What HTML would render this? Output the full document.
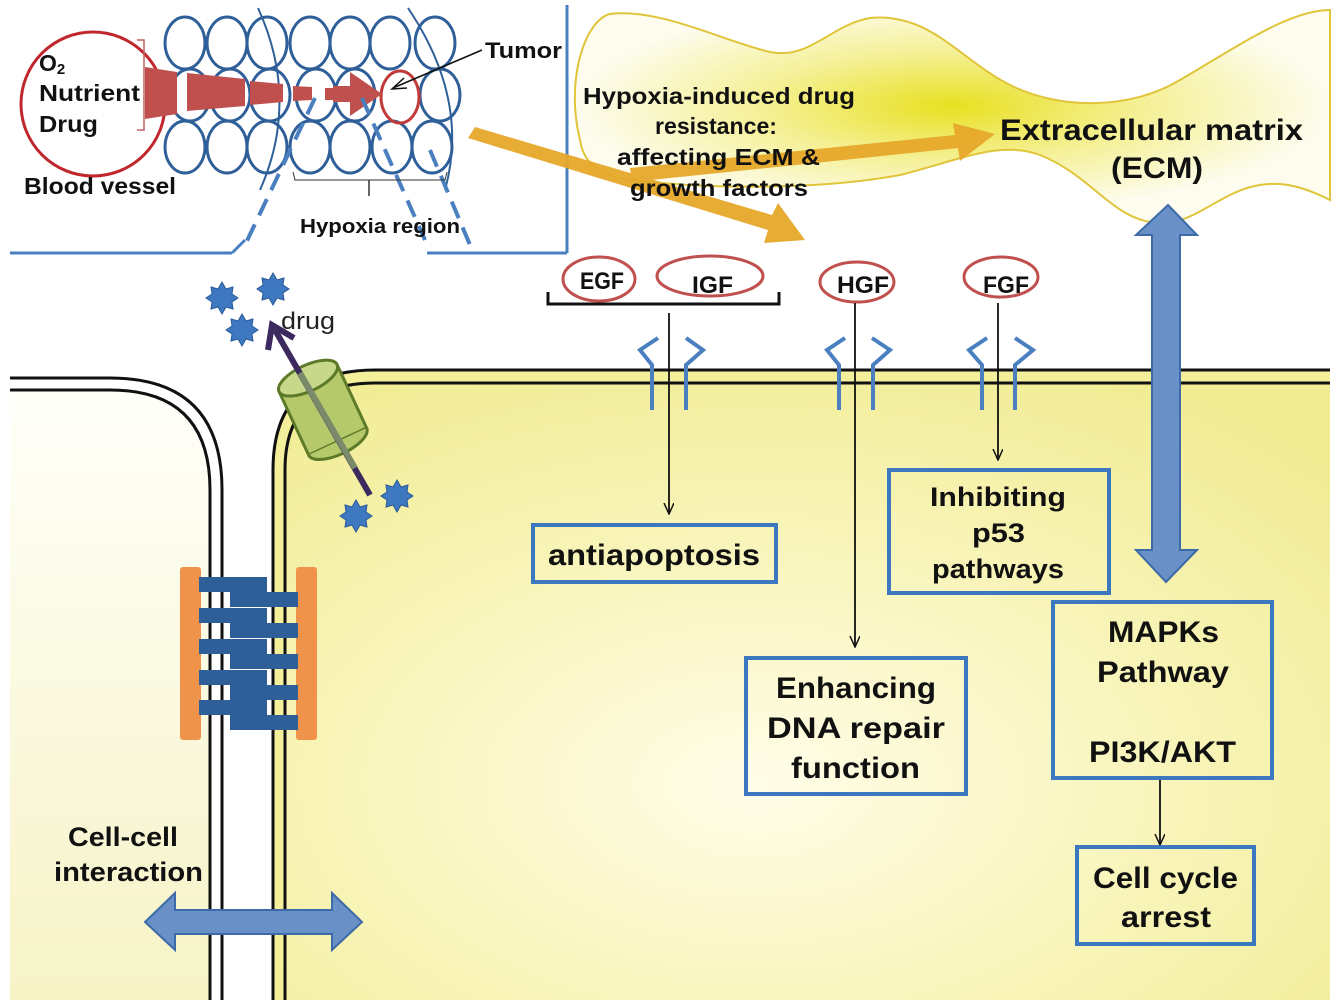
<!DOCTYPE html>
<html><head><meta charset="utf-8"><style>
html,body{margin:0;padding:0;background:#fff;}
svg{display:block;font-family:"Liberation Sans","Noto Sans CJK KR",sans-serif;}
.b{font-weight:bold;fill:#111;}
</style></head><body>
<svg width="1338" height="1000" viewBox="0 0 1338 1000" xmlns="http://www.w3.org/2000/svg">
<defs>
<radialGradient id="rc" cx="0.45" cy="0.65" r="0.75">
<stop offset="0" stop-color="#fffde8"/><stop offset="0.55" stop-color="#f8f4b8"/><stop offset="1" stop-color="#f1ec94"/>
</radialGradient>
<linearGradient id="lc" x1="0" y1="0" x2="0" y2="1">
<stop offset="0" stop-color="#fffffa"/><stop offset="1" stop-color="#f6f3c6"/>
</linearGradient>
<radialGradient id="ecm" cx="0.5" cy="0.45" r="0.5">
<stop offset="0" stop-color="#e8e020"/><stop offset="0.5" stop-color="#f5f095"/><stop offset="1" stop-color="#fdfcee"/>
</radialGradient>
<marker id="ah" markerWidth="12" markerHeight="12" refX="11" refY="5" orient="auto" markerUnits="userSpaceOnUse">
<path d="M0,0 L11,5 L0,10" fill="none" stroke="#111" stroke-width="1.5"/>
</marker>
</defs>

<!-- ECM cloud -->
<path d="M580,140 C565,80 585,20 610,14 C660,8 720,40 770,52 C810,60 830,25 870,18 C930,12 960,60 1010,85 C1060,110 1130,110 1180,80 C1240,45 1290,10 1330,10 L1330,200 C1300,185 1270,175 1230,195 C1200,210 1180,228 1150,222 C1110,215 1090,175 1040,155 C1000,140 960,160 900,175 C820,190 700,190 620,178 C595,172 583,160 580,140 Z" fill="url(#ecm)" stroke="#e0c43a" stroke-width="2"/>

<!-- frame -->
<g stroke="#4a7fc0" stroke-width="3" fill="none">
<line x1="567" y1="5" x2="567" y2="253"/>
<line x1="10" y1="253" x2="232" y2="253"/>
<line x1="232" y1="253" x2="245" y2="240"/>
<line x1="427" y1="253" x2="567" y2="253"/>
</g>

<!-- left cell -->
<path d="M10,390 L110,390 Q210,390 210,490 L210,1000 L10,1000 Z" fill="url(#lc)"/>
<path d="M10,378 L110,378 Q222,378 222,490 L222,1000" fill="none" stroke="#111" stroke-width="3"/>
<path d="M10,390 L110,390 Q210,390 210,490 L210,1000" fill="none" stroke="#111" stroke-width="3"/>
<!-- right cell -->
<path d="M273,1000 L273,470 Q273,370 375,370 L1330,370 L1330,1000 Z" fill="#f3ef9a"/>
<path d="M285,1000 L285,470 Q285,383 375,383 L1330,383 L1330,1000 Z" fill="url(#rc)"/>
<path d="M273,1000 L273,470 Q273,370 375,370 L1330,370" fill="none" stroke="#111" stroke-width="3"/>
<path d="M285,1000 L285,470 Q285,383 375,383 L1330,383" fill="none" stroke="#111" stroke-width="3"/>

<!-- tumor cells -->
<g fill="none" stroke="#2f5f98" stroke-width="3">
<ellipse cx="185" cy="43" rx="20" ry="26"/><ellipse cx="227" cy="43" rx="20" ry="26"/><ellipse cx="267" cy="43" rx="20" ry="26"/><ellipse cx="310" cy="43" rx="20" ry="26"/><ellipse cx="350" cy="43" rx="20" ry="26"/><ellipse cx="390" cy="43" rx="20" ry="26"/><ellipse cx="435" cy="43" rx="20" ry="26"/>
<ellipse cx="190" cy="95" rx="20" ry="26"/><ellipse cx="230" cy="95" rx="20" ry="26"/><ellipse cx="270" cy="95" rx="20" ry="26"/><ellipse cx="316" cy="95" rx="20" ry="26"/><ellipse cx="355" cy="95" rx="20" ry="26"/><ellipse cx="440" cy="95" rx="20" ry="26"/>
<ellipse cx="185" cy="147" rx="20" ry="26"/><ellipse cx="227" cy="147" rx="20" ry="26"/><ellipse cx="267" cy="147" rx="20" ry="26"/><ellipse cx="310" cy="147" rx="20" ry="26"/><ellipse cx="350" cy="147" rx="20" ry="26"/><ellipse cx="392" cy="147" rx="20" ry="26"/><ellipse cx="432" cy="147" rx="20" ry="26"/>
<path d="M258,8 Q300,100 260,190" stroke-width="2"/>
<path d="M408,8 Q470,100 445,190" stroke-width="2"/>
</g>
<ellipse cx="400" cy="97" rx="19" ry="26" fill="none" stroke="#c03a3a" stroke-width="3"/>
<!-- blood vessel -->
<circle cx="93" cy="104" r="72" fill="#fff" stroke="#c0262c" stroke-width="3"/>
<path d="M137,40 L144,40 L144,130 L137,130" fill="none" stroke="#c06060" stroke-width="1.5"/>
<!-- red arrow -->
<g fill="#c0504d">
<path d="M145,67 L177,72 L177,114 L145,119 Z"/>
<path d="M187,73 L245,79 L245,106 L187,111 Z"/>
<path d="M250,81 L283,84 L283,102 L250,105 Z"/>
<path d="M293,86 L312,87 L312,100 L293,101 Z"/>
<path d="M325,88 L333,88 L333,100 L325,100 Z"/>
<path d="M333,86 L350,86 L350,72 L382,94 L350,116 L350,102 L333,102 Z"/>
</g>
<line x1="482" y1="50" x2="393" y2="88" stroke="#111" stroke-width="1.5"/>
<path d="M404,78 L392,89 L407,88" fill="none" stroke="#111" stroke-width="1.5"/>
<!-- hypoxia dashed -->
<g stroke="#4a7fc0" stroke-width="4" stroke-dasharray="18,10" fill="none">
<line x1="315" y1="98" x2="245" y2="245"/>
<line x1="362" y1="98" x2="425" y2="240"/>
<line x1="430" y1="150" x2="470" y2="245"/>
</g>
<path d="M293,172 L295,180 L445,180 L447,172" fill="none" stroke="#333" stroke-width="1"/>
<line x1="369" y1="180" x2="369" y2="196" stroke="#333" stroke-width="1.5"/>
<text x="39" y="71" class="b" font-size="23">O<tspan font-size="15" dy="3">2</tspan></text>
<text x="39" y="101" class="b" font-size="23" textLength="101" lengthAdjust="spacingAndGlyphs">Nutrient</text>
<text x="39" y="132" class="b" font-size="23" textLength="59" lengthAdjust="spacingAndGlyphs">Drug</text>
<text x="24" y="194" class="b" font-size="23" textLength="152" lengthAdjust="spacingAndGlyphs">Blood vessel</text>
<text x="485" y="58" class="b" font-size="22" textLength="77" lengthAdjust="spacingAndGlyphs">Tumor</text>
<text x="300" y="233" class="b" font-size="20" textLength="160" lengthAdjust="spacingAndGlyphs">Hypoxia region</text>

<!-- orange arrows -->
<g fill="#e6a82a" opacity="0.95">
<path d="M468,138 L475,127 L772,215 L778,203 L805,240 L764,243 L768,230 Z"/>
<path d="M632,182 L630,168 L955,135 L953,123 L995,134 L960,161 L958,148 Z"/>
</g>
<text x="583" y="104" class="b" font-size="23" textLength="272" lengthAdjust="spacingAndGlyphs">Hypoxia-induced drug</text>
<text x="655" y="134" class="b" font-size="23" textLength="122" lengthAdjust="spacingAndGlyphs">resistance:</text>
<text x="617" y="165" class="b" font-size="23" textLength="203" lengthAdjust="spacingAndGlyphs">affecting ECM &amp;</text>
<text x="630" y="196" class="b" font-size="23" textLength="178" lengthAdjust="spacingAndGlyphs">growth factors</text>
<text x="1000" y="140" class="b" font-size="30" textLength="303" lengthAdjust="spacingAndGlyphs">Extracellular matrix</text>
<text x="1111" y="178" class="b" font-size="30" textLength="92" lengthAdjust="spacingAndGlyphs">(ECM)</text>

<!-- growth factors -->
<g fill="#fff" stroke="#c0504d" stroke-width="3">
<ellipse cx="599" cy="279" rx="36" ry="22"/>
<ellipse cx="710" cy="276" rx="53" ry="20"/>
<ellipse cx="857" cy="282" rx="37" ry="20"/>
<ellipse cx="1001" cy="277" rx="37" ry="20"/>
</g>
<text x="580" y="289" class="b" font-size="24" textLength="44" lengthAdjust="spacingAndGlyphs">EGF</text>
<text x="692" y="293" class="b" font-size="24" textLength="41" lengthAdjust="spacingAndGlyphs">IGF</text>
<text x="837" y="293" class="b" font-size="24" textLength="52" lengthAdjust="spacingAndGlyphs">HGF</text>
<text x="983" y="293" class="b" font-size="24" textLength="46" lengthAdjust="spacingAndGlyphs">FGF</text>
<path d="M548,292 L548,304 L779,304 L779,292" fill="none" stroke="#111" stroke-width="3"/>

<!-- receptors -->
<g stroke="#4a7fc0" stroke-width="4" fill="none">
<path d="M658,338 L640,350 L652,365 L652,410"/><path d="M686,338 L703,350 L686,365 L686,410"/>
<path d="M845,338 L827,350 L839,365 L839,410"/><path d="M872,338 L890,350 L873,365 L873,410"/>
<path d="M987,338 L969,350 L982,365 L982,410"/><path d="M1015,338 L1033,350 L1015,365 L1015,410"/>
</g>
<g stroke="#111" stroke-width="1.8">
<line x1="669" y1="313" x2="669" y2="514" marker-end="url(#ah)"/>
<line x1="855" y1="303" x2="855" y2="647" marker-end="url(#ah)"/>
<line x1="998" y1="303" x2="998" y2="460" marker-end="url(#ah)"/>
<line x1="1160" y1="780" x2="1160" y2="845" marker-end="url(#ah)"/>
</g>

<!-- boxes -->
<g fill="none" stroke="#3b78c0" stroke-width="4">
<rect x="533" y="525" width="243" height="57"/>
<rect x="746" y="658" width="220" height="136"/>
<rect x="889" y="470" width="220" height="123"/>
<rect x="1053" y="602" width="219" height="176"/>
<rect x="1077" y="847" width="177" height="97"/>
</g>
<text x="548" y="565" class="b" font-size="30" textLength="212" lengthAdjust="spacingAndGlyphs">antiapoptosis</text>
<text x="776" y="698" class="b" font-size="30" textLength="160" lengthAdjust="spacingAndGlyphs">Enhancing</text>
<text x="767" y="738" class="b" font-size="30" textLength="178" lengthAdjust="spacingAndGlyphs">DNA repair</text>
<text x="791" y="778" class="b" font-size="30" textLength="129" lengthAdjust="spacingAndGlyphs">function</text>
<text x="930" y="506" class="b" font-size="27" textLength="136" lengthAdjust="spacingAndGlyphs">Inhibiting</text>
<text x="972" y="542" class="b" font-size="27" textLength="53" lengthAdjust="spacingAndGlyphs">p53</text>
<text x="932" y="578" class="b" font-size="27" textLength="132" lengthAdjust="spacingAndGlyphs">pathways</text>
<text x="1108" y="642" class="b" font-size="30" textLength="111" lengthAdjust="spacingAndGlyphs">MAPKs</text>
<text x="1097" y="682" class="b" font-size="30" textLength="132" lengthAdjust="spacingAndGlyphs">Pathway</text>
<text x="1089" y="762" class="b" font-size="30" textLength="147" lengthAdjust="spacingAndGlyphs">PI3K/AKT</text>
<text x="1093" y="888" class="b" font-size="30" textLength="145" lengthAdjust="spacingAndGlyphs">Cell cycle</text>
<text x="1121" y="927" class="b" font-size="30" textLength="90" lengthAdjust="spacingAndGlyphs">arrest</text>

<!-- ECM double arrow -->
<path d="M1168,205 L1197,235 L1180,235 L1180,550 L1197,550 L1166,582 L1136,550 L1152,550 L1152,235 L1136,235 Z" fill="#6a90c8" stroke="#3d6aa8" stroke-width="2"/>

<!-- junction -->
<rect x="180" y="567" width="21" height="173" rx="3" fill="#f0934a"/>
<rect x="296" y="567" width="21" height="173" rx="3" fill="#f0934a"/>
<g fill="#2f5f98">
<rect x="199" y="577" width="68" height="15"/><rect x="230" y="592" width="68" height="15"/>
<rect x="199" y="608" width="68" height="15"/><rect x="230" y="623" width="68" height="15"/>
<rect x="199" y="639" width="68" height="15"/><rect x="230" y="654" width="68" height="15"/>
<rect x="199" y="670" width="68" height="15"/><rect x="230" y="685" width="68" height="15"/>
<rect x="199" y="700" width="68" height="15"/><rect x="230" y="715" width="68" height="15"/>
</g>

<!-- transporter -->
<g transform="rotate(-25 322 408)">
<rect x="290" y="375" width="64" height="70" fill="#b5c96a" stroke="#5c7a28" stroke-width="3"/>
<ellipse cx="322" cy="375" rx="32" ry="13" fill="#c8d88a" stroke="#5c7a28" stroke-width="3"/>
<path d="M290,445 A32,13 0 0 0 354,445" fill="#b5c96a" stroke="#5c7a28" stroke-width="3"/>
</g>
<line x1="370" y1="495" x2="275" y2="330" stroke="#3c2a5e" stroke-width="6"/>
<line x1="355" y1="468" x2="300" y2="373" stroke="#7a8a6a" stroke-width="6"/>
<path d="M268,350 L272,325 L294,338" fill="none" stroke="#3c2a5e" stroke-width="6"/>
<text x="281" y="329" font-size="24" fill="#222" textLength="54" lengthAdjust="spacingAndGlyphs">drug</text>

<!-- drug stars -->
<g fill="#3d78c0" stroke="#2a5a98" stroke-width="1">
<path id="st" d="M0,-16 L4,-9 L11,-11 L10,-4 L16,0 L10,4 L11,11 L4,9 L0,16 L-4,9 L-11,11 L-10,4 L-16,0 L-10,-4 L-11,-11 L-4,-9 Z" transform="translate(222,298)"/>
<use href="#st" transform="translate(51,-9)"/>
<use href="#st" transform="translate(20,32)"/>
<use href="#st" transform="translate(134,218)"/>
<use href="#st" transform="translate(175,198)"/>
</g>

<!-- cell-cell -->
<text x="68" y="846" class="b" font-size="27" textLength="110" lengthAdjust="spacingAndGlyphs">Cell-cell</text>
<text x="54" y="881" class="b" font-size="27" textLength="149" lengthAdjust="spacingAndGlyphs">interaction</text>
<path d="M145,922 L175,893 L175,910 L332,910 L332,893 L362,922 L332,950 L332,934 L175,934 L175,950 Z" fill="#6a90c8" stroke="#3d6aa8" stroke-width="2"/>
</svg>
</body></html>
